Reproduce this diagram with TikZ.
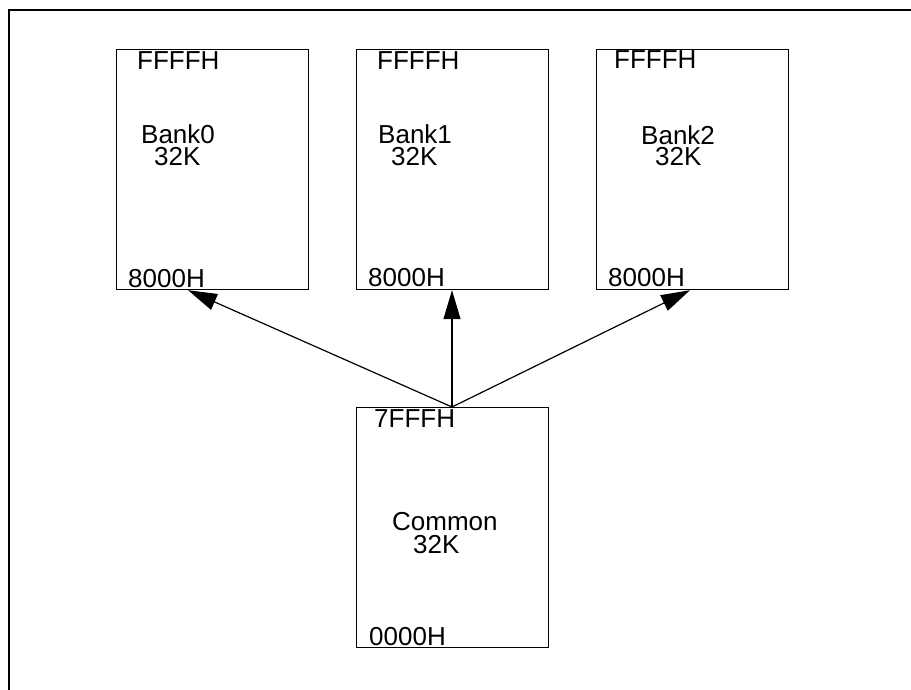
\documentclass[tikz,border=0pt]{standalone}
\usepackage{fontspec}
\setmainfont{Liberation Sans}
\usetikzlibrary{arrows.meta}
\begin{document}
\begin{tikzpicture}[x=1pt,y=-1pt,
  bank/.style={draw,line width=1.2pt,rectangle,inner sep=0,minimum width=192pt,minimum height=240pt,anchor=north west},
  lbl/.style={inner sep=0,anchor=base west,font=\fontsize{26}{26}\selectfont},
  conn/.style={line width=1.2pt,-{Triangle[length=29pt,width=17pt]}}]
\useasboundingbox (0,0) rectangle (911,690);
\clip (0,0) rectangle (911,690);
\fill[white] (0,0) rectangle (911,690);
\draw[line width=2.5pt] (9,700) -- (9,10) -- (925,10);
% boxes
\node[bank] (b0) at (116,49) {};
\node[bank] (b1) at (356,49) {};
\node[bank] (b2) at (596,49) {};
\node[bank] (cm) at (356,407) {};
% labels Bank0
\node[lbl] (b0top) at (137,70) {FFFFH};
\node[lbl] (b0name) at (141,144) {Bank0};
\node[lbl] (b0size) at (154,166) {32K};
\node[lbl] (b0bot) at (128,287) {8000H};
% labels Bank1
\node[lbl] (b1top) at (377,70) {FFFFH};
\node[lbl] (b1name) at (378,144) {Bank1};
\node[lbl] (b1size) at (391,166) {32K};
\node[lbl] (b1bot) at (368,286) {8000H};
% labels Bank2
\node[lbl] (b2top) at (614,69) {FFFFH};
\node[lbl] (b2name) at (641,145) {Bank2};
\node[lbl] (b2size) at (655,166) {32K};
\node[lbl] (b2bot) at (608,286) {8000H};
% labels Common
\node[lbl] (cmtop) at (374,427) {7FFFH};
\node[lbl] (cmname) at (392,530) {Common};
\node[lbl] (cmsize) at (413,553) {32K};
\node[lbl] (cmbot) at (369,645) {0000H};
% connectors
\coordinate (src) at ([xshift=96pt]cm.north west);
\coordinate (t0) at ([xshift=72pt]b0.south west);
\coordinate (t1) at ([xshift=96pt]b1.south west);
\coordinate (t2) at ([xshift=94pt]b2.south west);
\draw[conn] (src) -- (t0);
\draw[conn] (src) -- (t1);
\draw[conn] (src) -- (t2);
\end{tikzpicture}
\end{document}
